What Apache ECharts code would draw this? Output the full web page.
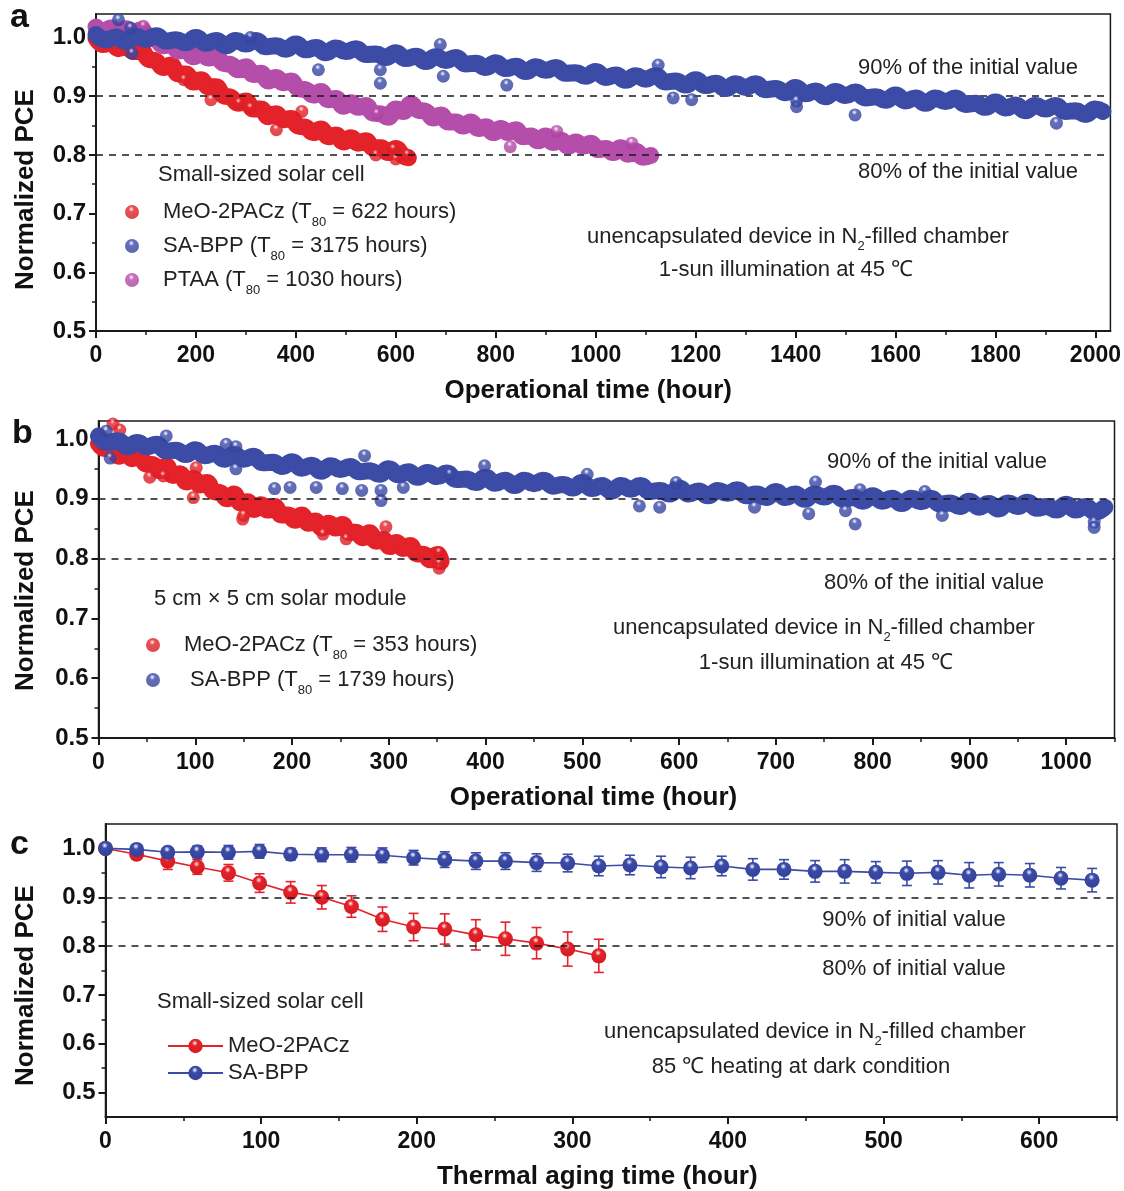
<!DOCTYPE html>
<html>
<head>
<meta charset="utf-8">
<script src="https://cdn.jsdelivr.net/npm/echarts@6/dist/echarts.min.js"></script>
<style>
  html, body { margin: 0; padding: 0; background: #fff; }
  #chart { width: 1124px; height: 1191px; }
</style>
</head>
<body>
<div id="chart"></div>
<script>
// ---- panel a : small-sized solar cells, 1-sun at 45 C ----
const aRedBand = [[0,0.999],[15,0.988],[30,0.992],[45,0.981],[60,0.986],[75,0.976],[90,0.978],[105,0.963],[120,0.960],[135,0.949],[150,0.953],[165,0.938],[180,0.938],[195,0.924],[210,0.928],[225,0.916],[240,0.916],[255,0.901],[270,0.898],[285,0.888],[300,0.892],[315,0.878],[330,0.878],[345,0.865],[360,0.870],[375,0.860],[390,0.862],[405,0.849],[420,0.847],[435,0.838],[450,0.844],[465,0.831],[480,0.834],[495,0.822],[510,0.829],[525,0.820],[540,0.824],[555,0.812],[570,0.812],[585,0.804],[600,0.811],[615,0.798],[625,0.795]];
const aRedOut = [[176,0.928],[230,0.894],[286,0.888],[309,0.880],[361,0.843],[412,0.874],[560,0.800],[600,0.793],[623,0.800],[595,0.810]];

const aBlueBand = [[0,1.005],[20,0.996],[40,1.001],[60,0.993],[80,1.002],[100,0.997],[120,1.003],[140,0.994],[160,0.996],[180,0.991],[200,1.000],[220,0.990],[240,0.995],[260,0.986],[280,0.995],[300,0.989],[320,0.995],[340,0.984],[360,0.986],[380,0.980],[400,0.989],[420,0.979],[440,0.983],[460,0.974],[480,0.982],[500,0.976],[520,0.981],[540,0.971],[560,0.972],[580,0.966],[600,0.974],[620,0.964],[640,0.968],[660,0.959],[680,0.967],[700,0.961],[720,0.966],[740,0.955],[760,0.956],[780,0.949],[800,0.957],[820,0.947],[840,0.951],[860,0.942],[880,0.950],[900,0.944],[920,0.949],[940,0.939],[960,0.940],[980,0.934],[1000,0.942],[1020,0.932],[1040,0.936],[1060,0.927],[1080,0.935],[1100,0.929],[1120,0.935],[1140,0.924],[1160,0.926],[1180,0.919],[1200,0.928],[1220,0.918],[1240,0.922],[1260,0.913],[1280,0.921],[1300,0.915],[1320,0.921],[1340,0.911],[1360,0.913],[1380,0.906],[1400,0.915],[1420,0.904],[1440,0.909],[1460,0.899],[1480,0.908],[1500,0.901],[1520,0.907],[1540,0.897],[1560,0.899],[1580,0.893],[1600,0.902],[1620,0.892],[1640,0.897],[1660,0.888],[1680,0.897],[1700,0.891],[1720,0.897],[1740,0.886],[1760,0.888],[1780,0.881],[1800,0.890],[1820,0.880],[1840,0.885],[1860,0.875],[1880,0.884],[1900,0.878],[1920,0.884],[1940,0.874],[1960,0.875],[1980,0.869],[2000,0.878],[2015,0.874]];
const aBlueOut = [[45,1.030],[69,1.016],[72,0.973],[309,1.000],[445,0.945],[569,0.945],[569,0.922],[689,0.988],[695,0.934],[822,0.919],[1125,0.953],[1155,0.897],[1192,0.894],[1402,0.882],[1402,0.892],[1519,0.868],[1922,0.854]];

const aPinkBand = [[0,1.018],[15,1.010],[30,1.016],[45,1.007],[60,1.015],[75,1.008],[90,1.013],[105,1.000],[120,0.997],[135,0.986],[150,0.990],[165,0.977],[180,0.979],[195,0.967],[210,0.974],[225,0.965],[240,0.968],[255,0.956],[270,0.954],[285,0.945],[300,0.950],[315,0.937],[330,0.939],[345,0.926],[360,0.932],[375,0.923],[390,0.926],[405,0.913],[420,0.911],[435,0.902],[450,0.908],[465,0.894],[480,0.896],[495,0.883],[510,0.889],[525,0.881],[540,0.884],[555,0.871],[570,0.870],[585,0.864],[600,0.878],[615,0.874],[630,0.887],[645,0.876],[660,0.874],[675,0.863],[690,0.868],[705,0.856],[720,0.856],[735,0.849],[750,0.856],[765,0.845],[780,0.848],[795,0.838],[810,0.845],[825,0.838],[840,0.843],[855,0.831],[870,0.832],[885,0.824],[900,0.832],[915,0.821],[930,0.825],[945,0.815],[960,0.822],[975,0.815],[990,0.820],[1005,0.809],[1020,0.811],[1035,0.804],[1050,0.812],[1065,0.801],[1080,0.806],[1095,0.796],[1110,0.799]];
const aPinkOut = [[95,1.019],[562,0.870],[829,0.814],[922,0.840],[1072,0.820]];

// ---- panel b : 5 cm x 5 cm module ----
const bRedBand = [[0,0.992],[7,0.984],[14,0.986],[21,0.971],[28,0.977],[35,0.967],[42,0.972],[49,0.958],[56,0.957],[63,0.947],[70,0.955],[77,0.939],[84,0.942],[91,0.928],[98,0.934],[105,0.923],[112,0.927],[119,0.912],[126,0.910],[133,0.900],[140,0.908],[147,0.893],[154,0.895],[161,0.882],[168,0.890],[175,0.881],[182,0.887],[189,0.873],[196,0.873],[203,0.864],[210,0.873],[217,0.859],[224,0.863],[231,0.851],[238,0.859],[245,0.851],[252,0.857],[259,0.844],[266,0.844],[273,0.835],[280,0.843],[287,0.829],[294,0.832],[301,0.820],[308,0.827],[315,0.817],[322,0.822],[329,0.808],[336,0.807],[343,0.798],[350,0.807],[354,0.795]];
const bRedOut = [[5,0.990],[15,1.025],[22,1.015],[53,0.936],[67,0.938],[98,0.902],[101,0.952],[149,0.866],[150,0.872],[232,0.841],[256,0.833],[297,0.853],[352,0.810],[352,0.784],[352,0.792]];

const bBlueBand = [[0,1.005],[10,0.994],[20,0.997],[30,0.987],[40,0.994],[50,0.987],[60,0.991],[70,0.980],[80,0.981],[90,0.974],[100,0.982],[110,0.972],[120,0.976],[130,0.966],[140,0.974],[150,0.966],[160,0.971],[170,0.960],[180,0.961],[190,0.954],[200,0.962],[210,0.951],[220,0.956],[230,0.946],[240,0.955],[250,0.949],[260,0.954],[270,0.945],[280,0.947],[290,0.941],[300,0.950],[310,0.940],[320,0.945],[330,0.936],[340,0.944],[350,0.937],[360,0.943],[370,0.932],[380,0.933],[390,0.927],[400,0.936],[410,0.926],[420,0.931],[430,0.922],[440,0.931],[450,0.925],[460,0.931],[470,0.921],[480,0.924],[490,0.918],[500,0.927],[510,0.917],[520,0.922],[530,0.913],[540,0.922],[550,0.916],[560,0.922],[570,0.912],[580,0.914],[590,0.908],[600,0.918],[610,0.908],[620,0.913],[630,0.905],[640,0.914],[650,0.909],[660,0.915],[670,0.905],[680,0.908],[690,0.902],[700,0.912],[710,0.902],[720,0.908],[730,0.899],[740,0.908],[750,0.903],[760,0.909],[770,0.899],[780,0.902],[790,0.896],[800,0.905],[810,0.896],[820,0.901],[830,0.892],[840,0.901],[850,0.895],[860,0.901],[870,0.891],[880,0.893],[890,0.887],[900,0.896],[910,0.886],[920,0.892],[930,0.883],[940,0.893],[950,0.887],[960,0.894],[970,0.884],[980,0.887],[990,0.881],[1000,0.891],[1010,0.881],[1020,0.887],[1030,0.878],[1040,0.886]];
const bBlueOut = [[8,1.013],[12,0.968],[70,1.005],[132,0.991],[142,0.987],[142,0.950],[182,0.917],[198,0.919],[225,0.919],[252,0.917],[275,0.972],[272,0.914],[292,0.897],[292,0.914],[315,0.919],[363,0.941],[399,0.955],[505,0.941],[559,0.888],[580,0.886],[597,0.927],[678,0.886],[741,0.928],[782,0.858],[734,0.875],[772,0.880],[787,0.915],[854,0.912],[872,0.872],[1029,0.861],[1029,0.852]];

// ---- panel c : thermal aging at 85 C ----
const cTime = [0,20,40,59,79,99,119,139,158,178,198,218,238,257,277,297,317,337,357,376,396,416,436,456,475,495,515,535,555,574,594,614,634];
const cRed = [1.000,0.988,0.974,0.962,0.950,0.929,0.910,0.900,0.881,0.855,0.839,0.835,0.823,0.815,0.806,0.794,0.780];
const cRedErr = [0,0.008,0.017,0.015,0.017,0.019,0.022,0.024,0.022,0.025,0.028,0.031,0.031,0.034,0.032,0.035,0.034];
const cBlue = [1.000,0.998,0.992,0.993,0.992,0.994,0.988,0.987,0.987,0.986,0.981,0.977,0.974,0.974,0.971,0.970,0.964,0.966,0.962,0.960,0.964,0.957,0.957,0.953,0.953,0.951,0.949,0.951,0.945,0.947,0.945,0.939,0.935];
const cBlueErr = [0,0.005,0.008,0.012,0.014,0.014,0.012,0.014,0.015,0.015,0.015,0.016,0.017,0.017,0.018,0.018,0.020,0.020,0.022,0.022,0.020,0.022,0.020,0.022,0.024,0.022,0.025,0.024,0.026,0.024,0.024,0.022,0.024];

// tick values
const yTicks = [0.5,0.6,0.7,0.8,0.9,1.0];
const yMinor = [0.55,0.65,0.75,0.85,0.95];
const aXTicks = [0,200,400,600,800,1000,1200,1400,1600,1800,2000];
const aXMinor = [100,300,500,700,900,1100,1300,1500,1700,1900];
const bXTicks = [0,100,200,300,400,500,600,700,800,900,1000];
const bXMinor = [50,150,250,350,450,550,650,750,850,950,1050];
const cXTicks = [0,100,200,300,400,500,600];
const cXMinor = [50,150,250,350,450,550,650];

const FONT = '"Liberation Sans", Arial, Helvetica, sans-serif';
const INK = '#1a1a1a';

function ball(base, hi, dark) {
    return new echarts.graphic.RadialGradient(0.45, 0.3, 0.62, [
        { offset: 0, color: '#ffffff' },
        { offset: 0.12, color: hi },
        { offset: 0.32, color: base },
        { offset: 1, color: dark }
    ]);
}
const RED = '#e4222a', BLUE = '#3b4ba6', PINK = '#b54eaa';
const redBall = ball(RED, '#f5a3a3', '#d81c23');
const blueBall = ball(BLUE, '#b3bbe8', '#34439d');
const pinkBall = ball(PINK, '#e8b5df', '#a9449f');

function mainX(grid, max, ticks, name, shift) {
    return {
        type: 'value', gridIndex: grid, min: 0, max: max, position: 'bottom',
        axisLine: { show: true, onZero: false, lineStyle: { color: INK, width: 2 } },
        axisTick: { show: true, customValues: ticks, length: 7, lineStyle: { color: INK, width: 2 } },
        axisLabel: { customValues: ticks, margin: 13, fontFamily: FONT, fontWeight: 'bold', fontSize: 23, color: '#111',
            formatter: v => String(v) },
        splitLine: { show: false },
        name: name, nameLocation: 'middle', nameGap: 47,
        nameTextStyle: { fontFamily: FONT, fontWeight: 'bold', fontSize: 26, color: '#111', padding: [0, shift, 0, 0] }
    };
}
function minorX(grid, max, ticks) {
    return {
        type: 'value', gridIndex: grid, min: 0, max: max, position: 'bottom',
        axisLine: { show: false },
        axisTick: { show: true, customValues: ticks, length: 4, lineStyle: { color: INK, width: 1.5 } },
        axisLabel: { show: false }, splitLine: { show: false }
    };
}
function mainY(grid, min, max, gap, shift) {
    return {
        type: 'value', gridIndex: grid, min: min, max: max, position: 'left',
        axisLine: { show: true, onZero: false, lineStyle: { color: INK, width: 2 } },
        axisTick: { show: true, customValues: yTicks, length: 7, lineStyle: { color: INK, width: 2 } },
        axisLabel: { customValues: yTicks, margin: 10, fontFamily: FONT, fontWeight: 'bold', fontSize: 24, color: '#111',
            formatter: v => v.toFixed(1) },
        splitLine: { show: false },
        name: 'Normalized PCE', nameLocation: 'middle', nameGap: gap,
        nameTextStyle: { fontFamily: FONT, fontWeight: 'bold', fontSize: 26, color: '#111', padding: [0, shift, 0, 0] }
    };
}
function minorY(grid, min, max) {
    return {
        type: 'value', gridIndex: grid, min: min, max: max, position: 'left',
        axisLine: { show: false },
        axisTick: { show: true, customValues: yMinor, length: 4, lineStyle: { color: INK, width: 1.5 } },
        axisLabel: { show: false }, splitLine: { show: false }
    };
}

function refLines(levels) {
    return {
        silent: true, symbol: 'none', animation: false,
        label: { show: false },
        lineStyle: { color: INK, width: 1.5, type: [7, 6] },
        data: levels.map(v => ({ yAxis: v }))
    };
}

function errorBars(color) {
    return function (params, api) {
        const x = api.value(0), y = api.value(1), e = api.value(2);
        const top = api.coord([x, y + e]);
        const bot = api.coord([x, y - e]);
        const st = { stroke: color, lineWidth: 1.6 };
        return {
            type: 'group',
            children: [
                { type: 'line', shape: { x1: top[0], y1: top[1], x2: bot[0], y2: bot[1] }, style: st },
                { type: 'line', shape: { x1: top[0] - 5, y1: top[1], x2: top[0] + 5, y2: top[1] }, style: st },
                { type: 'line', shape: { x1: bot[0] - 5, y1: bot[1], x2: bot[0] + 5, y2: bot[1] }, style: st }
            ]
        };
    };
}

// densely packed points: the overlapping crowd reads as a solid band
function band(xi, yi, data, color, z) {
    return {
        type: 'line', xAxisIndex: xi, yAxisIndex: yi, data: data, silent: true,
        symbol: 'circle', symbolSize: 12, showSymbol: true, showAllSymbol: true,
        itemStyle: { color: color }, smooth: 0.5, z: z, animation: false,
        lineStyle: { color: color, width: 17, cap: 'round', join: 'round' }
    };
}
function dots(name, xi, yi, data, color, z) {
    return {
        type: 'scatter', name: name, xAxisIndex: xi, yAxisIndex: yi, symbol: 'circle', symbolSize: 13,
        itemStyle: { color: color }, data: data, z: z, animation: false
    };
}

const legendText = {
    aRed: '{n|MeO-2PACz (T}{s|80}{n| = 622 hours)}',
    aBlue: '{n|SA-BPP (T}{s|80}{n| = 3175 hours)}',
    aPink: '{n|PTAA (T}{s|80}{n| = 1030 hours)}',
    bRed: '{n|MeO-2PACz (T}{s|80}{n| = 353 hours)}',
    bBlue: '{n| SA-BPP (T}{s|80}{n| = 1739 hours)}',
    cRed: '{n|MeO-2PACz}',
    cBlue: '{n|SA-BPP}'
};
const richSub = {
    n: { fontFamily: FONT, fontSize: 22, color: '#222', lineHeight: 34 },
    s: { fontFamily: FONT, fontSize: 13, color: '#222', lineHeight: 14, verticalAlign: 'bottom' }
};

function note(x, y, text, align) {
    return {
        type: 'text', x: x, y: y, silent: true,
        style: {
            text: text, align: align || 'center', verticalAlign: 'middle',
            fill: '#222', font: '22px ' + FONT,
            rich: {
                n: { fontFamily: FONT, fontSize: 22, fill: '#222', lineHeight: 32 },
                s: { fontFamily: FONT, fontSize: 13, fill: '#222', lineHeight: 14, verticalAlign: 'bottom' }
            }
        }
    };
}
function letter(x, y, t) {
    return { type: 'text', x: x, y: y, silent: true,
        style: { text: t, align: 'left', verticalAlign: 'middle', fill: '#111', font: 'bold 34px ' + FONT } };
}

const option = {
    backgroundColor: '#fff',
    animation: false,
    grid: [
        { left: 96, top: 14, width: 1015, height: 317, show: true, borderColor: INK, borderWidth: 1.5 },
        { left: 98.5, top: 421, width: 1016, height: 317, show: true, borderColor: INK, borderWidth: 1.5 },
        { left: 105.5, top: 824, width: 1011.5, height: 293, show: true, borderColor: INK, borderWidth: 1.5 }
    ],
    xAxis: [
        mainX(0, 2030, aXTicks, 'Operational time (hour)', 30), minorX(0, 2030, aXMinor),
        mainX(1, 1050, bXTicks, 'Operational time (hour)', 26), minorX(1, 1050, bXMinor),
        mainX(2, 650, cXTicks, 'Thermal aging time (hour)', 28), minorX(2, 650, cXMinor)
    ],
    yAxis: [
        mainY(0, 0.5, 1.04, 57, 34), minorY(0, 0.5, 1.04),
        mainY(1, 0.5, 1.03, 60, 22), minorY(1, 0.5, 1.03),
        mainY(2, 0.45, 1.05, 67, 30), minorY(2, 0.45, 1.05)
    ],
    legend: [
        {
            left: 120, top: 196, orient: 'vertical', itemGap: 6, itemWidth: 40, itemHeight: 14,
            icon: 'circle', selectedMode: false, data: ['aRed', 'aBlue', 'aPink'],
            formatter: n => legendText[n], textStyle: { padding: [0, 0, 0, 6], rich: richSub }
        },
        {
            left: 141, top: 629, orient: 'vertical', itemGap: 7, itemWidth: 40, itemHeight: 14,
            icon: 'circle', selectedMode: false, data: ['bRed', 'bBlue'],
            formatter: n => legendText[n], textStyle: { padding: [0, 0, 0, 6], rich: richSub }
        },
        {
            left: 162, top: 1030, orient: 'vertical', itemGap: 5, itemWidth: 55, itemHeight: 18,
            selectedMode: false, data: ['cRed', 'cBlue'],
            formatter: n => legendText[n],
            textStyle: { rich: { n: { fontFamily: FONT, fontSize: 22, color: '#222', lineHeight: 24 } } }
        }
    ],
    series: [
        // panel a
        Object.assign(band(0, 0, aRedBand, RED, 1), { markLine: refLines([0.9, 0.8]) }),
        dots('aRed', 0, 0, aRedOut, redBall, 2),
        band(0, 0, aPinkBand, PINK, 3),
        dots('aPink', 0, 0, aPinkOut, pinkBall, 4),
        band(0, 0, aBlueBand, BLUE, 5),
        dots('aBlue', 0, 0, aBlueOut, blueBall, 6),
        // panel b
        Object.assign(band(2, 2, bRedBand, RED, 1), { markLine: refLines([0.9, 0.8]) }),
        dots('bRed', 2, 2, bRedOut, redBall, 2),
        band(2, 2, bBlueBand, BLUE, 3),
        dots('bBlue', 2, 2, bBlueOut, blueBall, 4),
        // panel c
        { type: 'custom', name: 'cRedErr', xAxisIndex: 4, yAxisIndex: 4, silent: true,
          renderItem: errorBars(RED), data: cRed.map((v, i) => [cTime[i], v, cRedErr[i]]), z: 1,
          markLine: refLines([0.9, 0.795]) },
        { type: 'custom', name: 'cBlueErr', xAxisIndex: 4, yAxisIndex: 4, silent: true,
          renderItem: errorBars(BLUE), data: cBlue.map((v, i) => [cTime[i], v, cBlueErr[i]]), z: 1 },
        { type: 'line', name: 'cRed', xAxisIndex: 4, yAxisIndex: 4, symbol: 'circle', symbolSize: 15,
          showSymbol: true, lineStyle: { color: RED, width: 1.6 }, itemStyle: { color: redBall },
          data: cRed.map((v, i) => [cTime[i], v]), z: 3 },
        { type: 'line', name: 'cBlue', xAxisIndex: 4, yAxisIndex: 4, symbol: 'circle', symbolSize: 15,
          showSymbol: true, lineStyle: { color: BLUE, width: 1.6 }, itemStyle: { color: blueBall },
          data: cBlue.map((v, i) => [cTime[i], v]), z: 4 }
    ],
    graphic: [
        letter(10, 18, 'a'), letter(12, 434, 'b'), letter(10, 845, 'c'),
        note(968, 68, '90% of the initial value'),
        note(968, 172, '80% of the initial value'),
        note(158, 175, 'Small-sized solar cell', 'left'),
        note(798, 237, '{n|unencapsulated device in N}{s|2}{n|-filled chamber}'),
        note(786, 270, '1-sun illumination at 45 \u2103'),
        note(937, 462, '90% of the initial value'),
        note(934, 583, '80% of the initial value'),
        note(154, 599, '5 cm \u00d7 5 cm solar module', 'left'),
        note(824, 628, '{n|unencapsulated device in N}{s|2}{n|-filled chamber}'),
        note(826, 663, '1-sun illumination at 45 \u2103'),
        note(914, 920, '90% of initial value'),
        note(914, 969, '80% of initial value'),
        note(157, 1002, 'Small-sized solar cell', 'left'),
        note(815, 1032, '{n|unencapsulated device in N}{s|2}{n|-filled chamber}'),
        note(801, 1067, '85 \u2103 heating at dark condition')
    ]
};

const chart = echarts.init(document.getElementById('chart'), null, { renderer: 'canvas' });
chart.setOption(option);
</script>
</body>
</html>
